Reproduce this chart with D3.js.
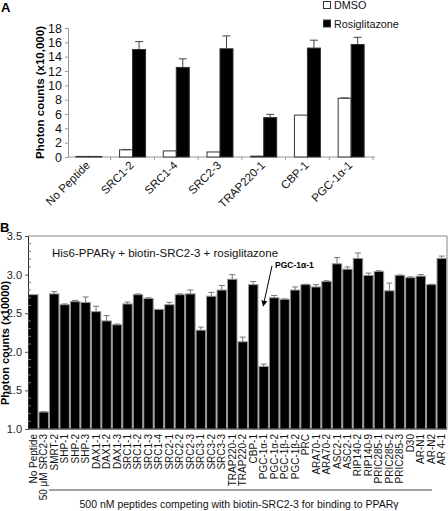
<!DOCTYPE html>
<html><head><meta charset="utf-8">
<script src="https://cdn.jsdelivr.net/npm/d3@7"></script>
<style>
html,body{margin:0;padding:0;background:#fff;}
svg{display:block;font-family:"Liberation Sans",Arial,sans-serif;}
</style></head>
<body>
<svg id="c" width="448" height="511"></svg>
<script>
// ---------- Panel A data ----------
const catsA = ["No Peptide","SRC1-2","SRC1-4","SRC2-3","TRAP220-1","CBP-1","PGC-1α-1"];
const dmsoA = [0.08, 1.0, 0.85, 0.7, 0.12, 5.85, 8.2];
const dmsoErrA = [0, 0.05, 0, 0, 0, 0, 0.05];
const rosiA = [0.08, 15.0, 12.5, 15.1, 5.5, 15.2, 15.7];
const rosiErrA = [0, 1.1, 1.2, 1.8, 0.45, 1.1, 1.0];
const yTicksA = [0,2,4,6,8,10,12,14,16,18];
const seriesA = ["DMSO","Rosiglitazone"];

// ---------- Panel B data ----------
const catsB = ["No Peptide","50 μM SRC2-3","SMRT-2","SHP-1","SHP-2","SHP-3","DAX1-1","DAX1-2","DAX1-3",
 "SRC1-1","SRC1-2","SRC1-3","SRC1-4","SRC2-1","SRC2-2","SRC2-3","SRC3-1","SRC3-2","SRC3-3",
 "TRAP220-1","TRAP220-2","CBP-1","PGC-1α-1","PGC-1α-2","PGC-1β-1","PGC-1β-2","PRC","ARA70-1","ARA70-2",
 "ASC2-1","ASC2-1","RIP140-2","RIP140-9","PRIC285-1","PRIC285-2","PRIC285-3","D30","AR-N1","AR-N2","AR 4-1"];
const valsB = [2.74,1.22,2.75,2.61,2.65,2.64,2.52,2.40,2.35,2.62,2.74,2.69,2.55,2.61,2.74,2.75,2.28,2.72,2.80,
 2.94,2.13,2.87,1.81,2.70,2.68,2.80,2.87,2.84,2.91,3.14,3.07,3.21,2.99,3.04,2.79,2.99,2.96,2.98,2.87,3.21];
const errB = [0,0.005,0.03,0.01,0.015,0.07,0.07,0.07,0.01,0.025,0.01,0.01,0,0.03,0.01,0.05,0.04,0.05,0.06,
 0.06,0.06,0.04,0.03,0.03,0.005,0.04,0.005,0.03,0.01,0.08,0.03,0.07,0.03,0.01,0.10,0.005,0.01,0.02,0.005,0.03];
const yTicksB = [1.0,1.5,2.0,2.5,3.0,3.5];
const titleB = "His6-PPARγ + biotin-SRC2-3 + rosiglitazone";
const noteB = "PGC-1α-1";
const noteIdx = 22;
const xTitleB = "500 nM peptides competing with biotin-SRC2-3 for binding to PPARγ";

const svg = d3.select("#c");

// ================= Panel A =================
const gA = svg.append("g");
const xA = d3.scaleBand().domain(catsA).range([67, 373]);
const yA = d3.scaleLinear().domain([0, 18]).range([157, 28]);
const axisX0 = 68;

gA.append("text").attr("x", 1).attr("y", 12).attr("font-size", 13).attr("font-weight", "bold").text("A");

const yAxA = gA.append("g").attr("transform", `translate(${axisX0},0)`)
  .call(d3.axisLeft(yA).tickValues(yTicksA).tickSize(3).tickPadding(3).tickFormat(d3.format("d")));
yAxA.select(".domain").attr("stroke", "#999");
yAxA.selectAll(".tick line").attr("stroke", "#999");
yAxA.selectAll("text").attr("font-size", 12.5).attr("fill", "#111").attr("font-family", "Liberation Sans, Arial, sans-serif");

gA.append("line").attr("x1", axisX0).attr("x2", 375).attr("y1", yA(0)).attr("y2", yA(0)).attr("stroke", "#999");
xA.domain().forEach(c => {
  const xb = xA(c) + xA.bandwidth();
  gA.append("line").attr("x1", xb).attr("x2", xb).attr("y1", yA(0)).attr("y2", yA(0) + 3).attr("stroke", "#999");
});

gA.append("text").attr("transform", `translate(44,${(yA(0)+yA(18))/2}) rotate(-90)`)
  .attr("text-anchor", "middle").attr("font-size", 11.5).attr("font-weight", "bold").text("Photon counts (x10,000)");

const bw = 13;
catsA.forEach((c, i) => {
  const cx = xA(c) + xA.bandwidth() / 2;
  gA.append("rect").attr("x", cx - bw).attr("y", yA(dmsoA[i])).attr("width", bw)
    .attr("height", yA(0) - yA(dmsoA[i])).attr("fill", "#fff").attr("stroke", "#333").attr("stroke-width", 1);
  gA.append("rect").attr("x", cx).attr("y", yA(rosiA[i])).attr("width", bw)
    .attr("height", yA(0) - yA(rosiA[i])).attr("fill", "#000").attr("stroke", "#333").attr("stroke-width", 1);
  [[cx - bw / 2, dmsoA[i], dmsoErrA[i]], [cx + bw / 2, rosiA[i], rosiErrA[i]]].forEach(([ex, v, e]) => {
    if (e <= 0) return;
    gA.append("line").attr("x1", ex).attr("x2", ex).attr("y1", yA(v)).attr("y2", yA(v + e)).attr("stroke", "#444");
    gA.append("line").attr("x1", ex - 4).attr("x2", ex + 4).attr("y1", yA(v + e)).attr("y2", yA(v + e)).attr("stroke", "#444");
  });
  gA.append("text").attr("transform", `translate(${cx + 2},${yA(0) + 9}) rotate(-45)`)
    .attr("text-anchor", "end").attr("font-size", 11.5).attr("fill", "#111").text(c);
});

const legA = gA.append("g");
seriesA.forEach((s, i) => {
  legA.append("rect").attr("x", 323.5).attr("y", 1.5 + i * 18.5).attr("width", 7).attr("height", 7)
    .attr("fill", i === 0 ? "#fff" : "#000").attr("stroke", "#333");
  legA.append("text").attr("x", 334).attr("y", 9 + i * 18.5).attr("font-size", 10.8).attr("fill", "#111").text(s);
});

// ================= Panel B =================
const gB = svg.append("g");
const idxB = d3.range(catsB.length);
const xB = d3.scaleBand().domain(idxB).range([28, 447]);
const yB = d3.scaleLinear().domain([1.0, 3.5]).range([429, 236]);

gB.append("text").attr("x", 0).attr("y", 232).attr("font-size", 13).attr("font-weight", "bold").text("B");

gB.append("line").attr("x1", 28).attr("x2", 447).attr("y1", yB(3.5)).attr("y2", yB(3.5)).attr("stroke", "#888");
gB.append("line").attr("x1", 447).attr("x2", 447).attr("y1", yB(3.5)).attr("y2", yB(1.0)).attr("stroke", "#888");

gB.selectAll("rect.b").data(idxB).enter().append("rect")
  .attr("x", i => xB(i) + 0.5).attr("width", xB.bandwidth() - 1)
  .attr("y", i => yB(valsB[i])).attr("height", i => yB(1.0) - yB(valsB[i]))
  .attr("fill", "#000").attr("stroke", "#999").attr("stroke-width", 1);

idxB.forEach(i => {
  if (errB[i] <= 0) return;
  const cx = xB(i) + xB.bandwidth() / 2;
  const v = valsB[i], e = errB[i];
  gB.append("line").attr("x1", cx).attr("x2", cx).attr("y1", yB(v)).attr("y2", yB(v + e)).attr("stroke", "#777");
  gB.append("line").attr("x1", cx - 3).attr("x2", cx + 3).attr("y1", yB(v + e)).attr("y2", yB(v + e)).attr("stroke", "#777");
});

const yAxB = gB.append("g").attr("transform", "translate(28,0)")
  .call(d3.axisLeft(yB).tickValues(yTicksB).tickSize(3).tickPadding(3).tickFormat(d3.format(".1f")));
yAxB.select(".domain").attr("stroke", "#333");
yAxB.selectAll(".tick line").attr("stroke", "#555");
yAxB.selectAll("text").attr("font-size", 11).attr("fill", "#222").attr("font-family", "Liberation Sans, Arial, sans-serif");
const minorB = d3.range(10, 36).map(d => d / 10).filter(d => Math.abs(d * 2 - Math.round(d * 2)) > 1e-6);
gB.selectAll("line.mt").data(minorB).enter().append("line")
  .attr("x1", 28).attr("x2", 31).attr("y1", d => yB(d)).attr("y2", d => yB(d)).attr("stroke", "#777");

gB.append("line").attr("x1", 28).attr("x2", 447).attr("y1", yB(1.0)).attr("y2", yB(1.0)).attr("stroke", "#333");

idxB.forEach(i => {
  const cx = xB(i) + xB.bandwidth() / 2;
  gB.append("text").attr("transform", `translate(${cx + 3.5},${yB(1.0) + 5}) rotate(-90)`)
    .attr("text-anchor", "end").attr("font-size", 10).attr("fill", "#111").text(catsB[i]);
});

gB.append("text").attr("transform", `translate(8.5,343) rotate(-90)`)
  .attr("text-anchor", "middle").attr("font-size", 11).attr("font-weight", "bold").text("Photon counts (x10000)");

gB.append("text").attr("x", 52).attr("y", 257).attr("font-size", 11.5).attr("fill", "#111").text(titleB);

const cPGC = xB(noteIdx) + xB.bandwidth() / 2;
gB.append("text").attr("x", 275).attr("y", 268).attr("font-size", 8.5).attr("font-weight", "bold").text(noteB);
svg.append("defs").append("marker").attr("id", "ah").attr("viewBox", "0 0 10 10").attr("refX", 9).attr("refY", 5)
  .attr("markerWidth", 6).attr("markerHeight", 6).attr("orient", "auto")
  .append("path").attr("d", "M0,0 L10,5 L0,10 z").attr("fill", "#000");
gB.append("line").attr("x1", 272).attr("y1", 266).attr("x2", cPGC - 0.5).attr("y2", 306)
  .attr("stroke", "#000").attr("stroke-width", 1).attr("marker-end", "url(#ah)");

gB.append("line").attr("x1", 49).attr("x2", 432).attr("y1", 490).attr("y2", 490).attr("stroke", "#444");
gB.append("text").attr("x", 239).attr("y", 508).attr("text-anchor", "middle").attr("font-size", 10.5).attr("fill", "#111").text(xTitleB);
</script>
</body></html>
